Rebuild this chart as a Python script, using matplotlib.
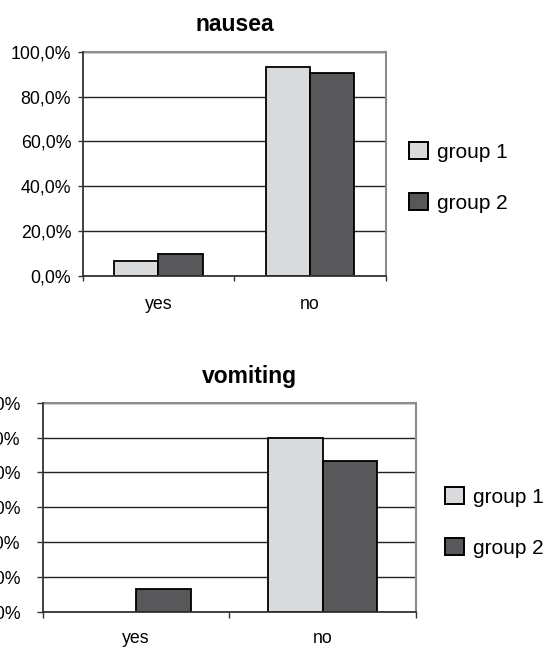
import matplotlib
matplotlib.use('Agg')
import matplotlib.pyplot as plt
import numpy as np
from matplotlib.ticker import FuncFormatter, FixedLocator
from matplotlib.patches import Patch

plt.rcParams['font.family'] = ['Liberation Sans', 'DejaVu Sans']

# datos
categories = ['yes', 'no']
groups = ['group 1', 'group 2']
nausea_g1 = [6.7, 93.3]
nausea_g2 = [9.7, 90.3]
vomiting_g1 = [0.0, 100.0]
vomiting_g2 = [13.3, 86.7]

colors = ['#d9dadc', '#58585a']


def pct(v, pos):
    return ('%.1f%%' % v).replace('.', ',')


def draw_chart(ax, g1, g2, ymax, tick_pad, label_pad, tick_len):
    x = np.arange(len(categories))
    w = 0.292
    # las barras en cero no se dibujan (sin borde)
    lw1 = [1.3 if v > 0 else 0 for v in g1]
    lw2 = [1.3 if v > 0 else 0 for v in g2]
    ax.bar(x - w / 2, g1, w, color=colors[0], edgecolor='black', linewidth=lw1, zorder=3)
    ax.bar(x + w / 2, g2, w, color=colors[1], edgecolor='black', linewidth=lw2, zorder=3)
    ax.set_xlim(-0.5, len(categories) - 0.5)
    ax.set_ylim(0, ymax)
    ax.yaxis.set_major_locator(FixedLocator(np.arange(0, ymax + 1, 20)))
    ax.yaxis.set_major_formatter(FuncFormatter(pct))
    ax.tick_params(axis='y', labelsize=12.8, length=tick_len, width=1, pad=tick_pad, color='#333333')
    # marcas en los limites de categoria, etiquetas en el centro
    ax.set_xticks(np.arange(len(categories) + 1) - 0.5)
    ax.set_xticklabels([])
    ax.set_xticks(x, minor=True)
    ax.set_xticklabels(categories, minor=True)
    ax.tick_params(axis='x', which='major', length=tick_len, width=1, color='#333333')
    ax.tick_params(axis='x', which='minor', length=0, labelsize=12.8, pad=label_pad)
    ax.grid(axis='y', color='#222222', linewidth=1.0, zorder=1)
    ax.set_axisbelow(True)
    for s in ['left', 'bottom']:
        ax.spines[s].set_color('#333333')
        ax.spines[s].set_linewidth(1.3)
        ax.spines[s].set_zorder(4)
    for s in ['top', 'right']:
        ax.spines[s].set_color('#8c8c8c')
        ax.spines[s].set_linewidth(1.5)


fig = plt.figure(figsize=(5.45, 6.51), dpi=100)

handles = [Patch(facecolor=colors[0], edgecolor='black', linewidth=1.4),
           Patch(facecolor=colors[1], edgecolor='black', linewidth=1.4)]
leg_kw = dict(loc='center left', frameon=False, fontsize=15, handlelength=0.88,
              handleheight=0.88, handletextpad=0.45, labelspacing=1.5,
              borderpad=0, borderaxespad=0)

# grafico nausea
ax1 = fig.add_axes([0.1517, 0.576, 0.5563, 0.3446])
draw_chart(ax1, nausea_g1, nausea_g2, 100, 5, 14.5, 3.3)
fig.text(0.4315, 0.9524, 'nausea', ha='center', va='baseline', fontsize=16.5, fontweight='bold')
fig.legend(handles, groups, bbox_to_anchor=(0.751, 0.7273), **leg_kw)

# grafico vomiting
ax2 = fig.add_axes([0.0783, 0.0604, 0.6855, 0.3210])
draw_chart(ax2, vomiting_g1, vomiting_g2, 120, 11.4, 13, 4.5)
fig.text(0.4583, 0.4112, 'vomiting', ha='center', va='baseline', fontsize=16.5, fontweight='bold')
fig.legend(handles, groups, bbox_to_anchor=(0.8173, 0.1974), **leg_kw)

plt.savefig('out.png', dpi=100)
